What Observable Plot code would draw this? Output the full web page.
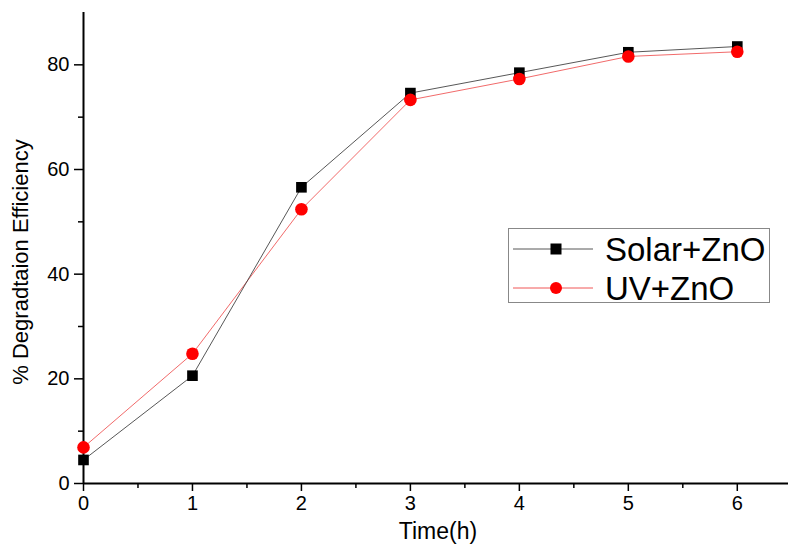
<!DOCTYPE html>
<html>
<head>
<meta charset="utf-8">
<script src="https://cdn.jsdelivr.net/npm/d3@7"></script>
<script src="https://cdn.jsdelivr.net/npm/@observablehq/plot@0.6"></script>
<style>
  html, body { margin: 0; padding: 0; background: #fff; }
  #wrap { position: relative; width: 788px; height: 550px; font-family: "Liberation Sans", Arial, sans-serif; }
  #legend { position: absolute; left: 508px; top: 228px; width: 262px; height: 75px; border: 1px solid #888; background: #fff; box-sizing: border-box; }
  #legend .row { position: absolute; left: 0; display: flex; align-items: center; height: 36px; }
  #legend span { font-size: 33px; color: #000; margin-left: 8px; line-height: 1; }
</style>
</head>
<body>
<div id="wrap"></div>
<script>
const time = [0, 1, 2, 3, 4, 5, 6];
const solarZnO = [4.5, 20.6, 56.6, 74.6, 78.5, 82.4, 83.5];
const uvZnO = [6.9, 24.8, 52.4, 73.3, 77.3, 81.6, 82.5];
const seriesNames = ["Solar+ZnO", "UV+ZnO"];
const xMajor = [0, 1, 2, 3, 4, 5, 6];
const xMinor = [0.5, 1.5, 2.5, 3.5, 4.5, 5.5];
const yMajor = [0, 20, 40, 60, 80];
const yMinor = [10, 30, 50, 70];
const xLabel = "Time(h)";
const yLabel = "% Degradtaion Efficiency";

const solar = time.map((t, i) => ({t, v: solarZnO[i]}));
const uv = time.map((t, i) => ({t, v: uvZnO[i]}));

const chart = Plot.plot({
  width: 788,
  height: 550,
  marginLeft: 83,
  marginRight: 0,
  marginTop: 12,
  marginBottom: 67,
  style: {fontFamily: "Liberation Sans, Arial, sans-serif", fontSize: "20px", color: "#000", background: "#fff"},
  x: {domain: [0, 6.47]},
  y: {domain: [0, 90]},
  marks: [
    Plot.axisX({ticks: xMajor, tickSize: 8, tickPadding: 4, strokeWidth: 1.5, fontSize: 20, label: null, tickFormat: d3.format("d")}),
    Plot.axisX({ticks: xMinor, tickSize: 5, text: null, strokeWidth: 1.5, label: null}),
    Plot.axisY({ticks: yMajor, tickSize: 9, tickPadding: 5, strokeWidth: 1.5, fontSize: 20, label: null}),
    Plot.axisY({ticks: yMinor, tickSize: 5, text: null, strokeWidth: 1.5, label: null}),
    Plot.ruleX([0], {stroke: "#000", strokeWidth: 2}),
    Plot.ruleY([0], {stroke: "#000", strokeWidth: 2}),
    Plot.line(uv, {x: "t", y: "v", stroke: "#e44", strokeWidth: 0.8}),
    Plot.line(solar, {x: "t", y: "v", stroke: "#444", strokeWidth: 0.9}),
    Plot.dot(solar, {x: "t", y: "v", symbol: "square", r: 6, fill: "#000"}),
    Plot.dot(uv, {x: "t", y: "v", symbol: "circle", r: 6.3, fill: "#f00"}),
    Plot.text([xLabel], {frameAnchor: "bottom", textAnchor: "middle", dy: 55, dx: 2, fontSize: 23, fill: "#000"}),
    Plot.text([yLabel], {frameAnchor: "left", textAnchor: "middle", rotate: -90, dx: -63, dy: 14, fontSize: 22, fill: "#000"})
  ]
});
const wrap = document.getElementById("wrap");
wrap.appendChild(chart);

// legend
const legend = document.createElement("div");
legend.id = "legend";
const styles = [
  {stroke: "#444", fill: "#000", shape: "square"},
  {stroke: "#e44", fill: "#f00", shape: "circle"}
];
seriesNames.forEach((name, i) => {
  const row = document.createElement("div");
  row.className = "row";
  row.style.top = (2 + i * 39) + "px";
  const s = styles[i];
  const marker = s.shape === "square"
    ? `<rect x="37.5" y="12.5" width="11" height="11" fill="${s.fill}"/>`
    : `<circle cx="43" cy="18" r="6" fill="${s.fill}"/>`;
  row.innerHTML = `<svg width="84" height="36" style="margin-left:4px;display:block"><line x1="0" x2="80" y1="18" y2="18" stroke="${s.stroke}" stroke-width="0.9"/>${marker}</svg><span>${name}</span>`;
  legend.appendChild(row);
});
wrap.appendChild(legend);
</script>
</body>
</html>
